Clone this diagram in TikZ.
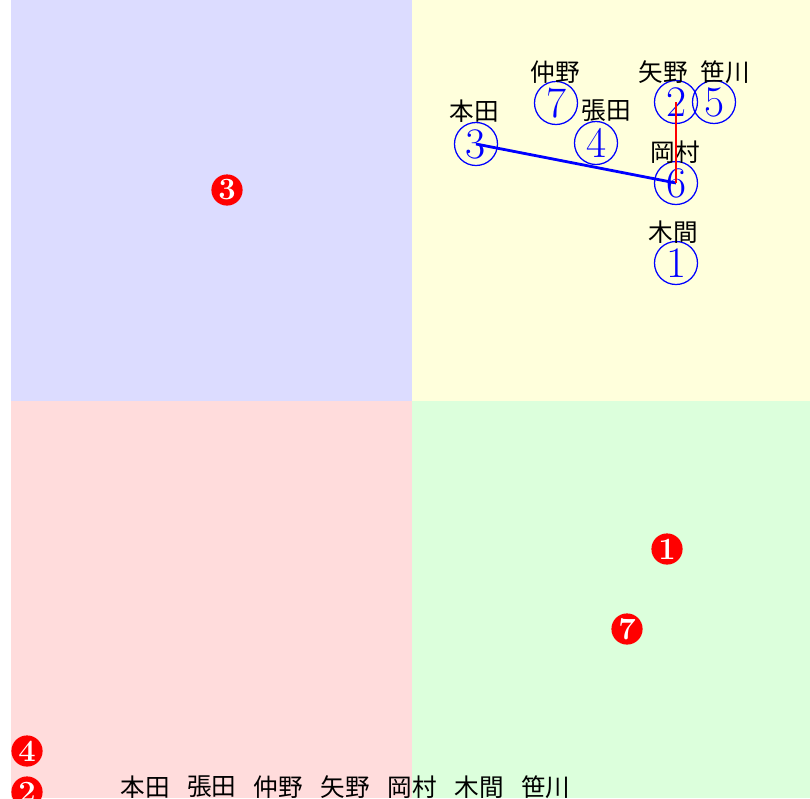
\documentclass[tikz,border=0pt]{standalone}
\usepackage{fontspec}
\newfontfamily\jpfont{Noto Sans CJK JP}
\usetikzlibrary{positioning}
\definecolor{QuadBlue}{RGB}{220,220,255}
\definecolor{QuadYellow}{RGB}{255,255,220}
\definecolor{QuadPink}{RGB}{255,220,220}
\definecolor{QuadGreen}{RGB}{220,255,220}
\definecolor{MemberBlue}{RGB}{0,0,255}
\definecolor{BadgeRed}{RGB}{255,0,0}
\tikzset{
    % blue circled members
    member/.style={
        circle,
        draw=MemberBlue,
        text=MemberBlue,
        line width=0.9pt,
        inner sep=0pt,
        minimum size=1.075cm,
        font=\fontsize{31}{31}\selectfont
    },
    % red filled badges
    badge/.style={
        circle,
        fill=BadgeRed,
        text=white,
        inner sep=0pt,
        minimum size=0.78cm,
        font=\fontsize{22}{22}\selectfont\bfseries
    },
    namelabel/.style={
        inner sep=0pt,
        font=\jpfont\fontsize{17.5}{17.5}\selectfont
    },
    link blue/.style={
        MemberBlue,
        line width=2pt
    },
    link red/.style={
        BadgeRed,
        line width=2pt
    }
}
\begin{document}
\begin{tikzpicture}[x=0.025cm, y=-0.025cm]
    \useasboundingbox (0,0) rectangle (810,798);
    % quadrants
    \fill[QuadBlue] (11,0) rectangle (412,401);
    \fill[QuadYellow] (412,0) rectangle (810,401);
    \fill[QuadPink] (11,401) rectangle (412,798);
    \fill[QuadGreen] (412,401) rectangle (810,798);

    % members
    \node[member] (m1) at (676,263) {1};
    \node[member] (m2) at (676,102) {2};
    \node[member] (m3) at (476,144) {3};
    \node[member] (m4) at (596,143) {4};
    \node[member] (m5) at (714,102) {5};
    \node[member] (m6) at (676,183) {6};
    \node[member] (m7) at (556,103) {7};

    \node[namelabel] (n1) at (673,232) {木間};
    \node[namelabel] (n2) at (663,72) {矢野};
    \node[namelabel] (n3) at (474,111) {本田};
    \node[namelabel] (n4) at (606,111) {張田};
    \node[namelabel] (n5) at (725,72) {笹川};
    \node[namelabel] (n6) at (675,152) {岡村};
    \node[namelabel] (n7) at (555,72) {仲野};

    \draw[link blue] (m3.center) -- (m6.center);
    \draw[link red] (m2.center) -- (m6.center);

    % badges
    \node[badge] (b3) at (227,190) {3};
    \node[badge] (b1) at (667,549) {1};
    \node[badge] (b7) at (627,629) {7};
    \node[badge] (b4) at (27,751) {4};
    \node[badge] (b2) at (27,792) {2};

    % list of names
    \foreach \nm [count=\i from 0] in {本田,張田,仲野,矢野,岡村,木間,笹川}
        \node[namelabel] (l\i) at (145+66.8*\i,787) {\nm};
\end{tikzpicture}
\end{document}
